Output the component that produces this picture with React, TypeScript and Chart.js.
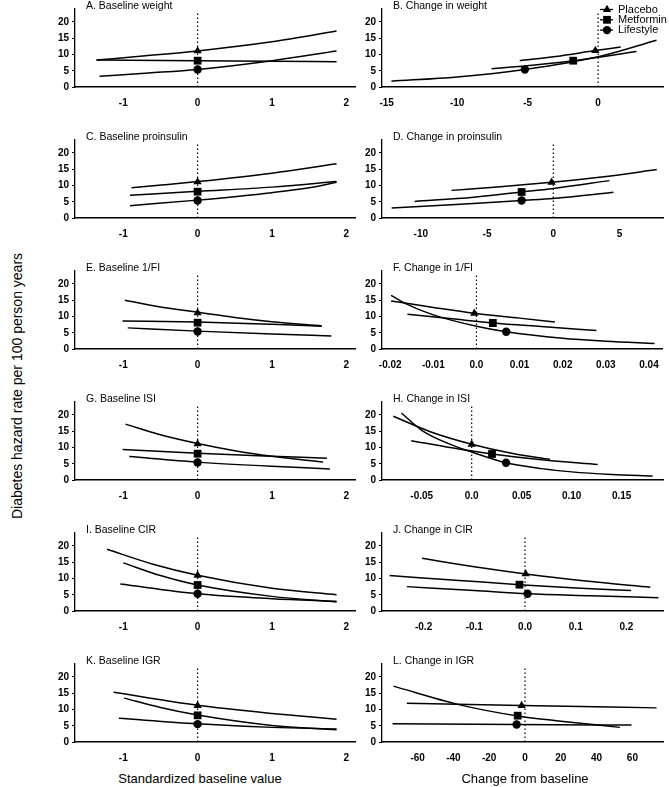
import React, { useEffect, useRef } from "react";
import { Chart, registerables } from "chart.js";
Chart.register(...registerables);

type Pt = [number, number];

const seriesNames = ["Placebo", "Metformin", "Lifestyle"];
const panelTitles = [
  "A. Baseline weight", "B. Change in weight",
  "C. Baseline proinsulin", "D. Change in proinsulin",
  "E. Baseline 1/FI", "F. Change in 1/FI",
  "G. Baseline ISI", "H. Change in ISI",
  "I. Baseline CIR", "J. Change in CIR",
  "K. Baseline IGR", "L. Change in IGR",
];
const yAxisTitle = "Diabetes hazard rate per 100 person years";
const xTitleLeft = "Standardized baseline value";
const xTitleRight = "Change from baseline";

const yTicks = [0, 5, 10, 15, 20];
const baselineTicks = [-1, 0, 1, 2];
const baselineTickLabels = ["-1", "0", "1", "2"];
const ticksB = [-15, -10, -5, 0];
const labelsB = ["-15", "-10", "-5", "0"];
const ticksD = [-10, -5, 0, 5];
const labelsD = ["-10", "-5", "0", "5"];
const ticksF = [-0.02, -0.01, 0, 0.01, 0.02, 0.03, 0.04];
const labelsF = ["-0.02", "-0.01", "0.0", "0.01", "0.02", "0.03", "0.04"];
const ticksH = [-0.05, 0, 0.05, 0.1, 0.15];
const labelsH = ["-0.05", "0.0", "0.05", "0.10", "0.15"];
const ticksJ = [-0.2, -0.1, 0, 0.1, 0.2];
const labelsJ = ["-0.2", "-0.1", "0.0", "0.1", "0.2"];
const ticksL = [-60, -40, -20, 0, 20, 40, 60];
const labelsL = ["-60", "-40", "-20", "0", "20", "40", "60"];

// axis ranges [min, max]
const rangeBaseline: Pt = [-1.65, 2.13];
const rangeB: Pt = [-15.33, 4.6];
const rangeD: Pt = [-12.93, 8.28];
const rangeF: Pt = [-0.0219, 0.0431];
const rangeH: Pt = [-0.0897, 0.1913];
const rangeJ: Pt = [-0.282, 0.272];
const rangeL: Pt = [-79.9, 77.1];

// A. Baseline weight
const aPlacebo: Pt[] = [[-1.36, 8.3], [-0.7, 9.6], [0, 11.1], [1, 13.9], [1.87, 17.2]];
const aMetformin: Pt[] = [[-1.36, 8.3], [0, 8.1], [1, 7.9], [1.87, 7.8]];
const aLifestyle: Pt[] = [[-1.32, 3.3], [-0.66, 4.3], [0, 5.4], [1, 8.1], [1.87, 11.1]];
const aMarkers: Pt[] = [[0, 11.1], [0, 8.1], [0, 5.4]];
// B. Change in weight
const bPlacebo: Pt[] = [[-5.56, 8.1], [-3, 9.4], [-0.2, 11.2], [1.6, 12.3]];
const bMetformin: Pt[] = [[-7.56, 5.6], [-4.5, 6.8], [-1.77, 8.1], [2.72, 10.9]];
const bLifestyle: Pt[] = [[-14.66, 1.8], [-10, 3.1], [-5.2, 5.4], [0, 9.3], [4.14, 14.4]];
const bMarkers: Pt[] = [[-0.2, 11.2], [-1.77, 8.1], [-5.2, 5.4]];
// C. Baseline proinsulin
const cPlacebo: Pt[] = [[-0.89, 9.3], [-0.45, 10.2], [0, 11.2], [1, 13.8], [1.87, 16.7]];
const cMetformin: Pt[] = [[-0.91, 7.0], [0, 8.2], [1, 9.5], [1.87, 11.2]];
const cLifestyle: Pt[] = [[-0.91, 3.8], [0, 5.5], [1, 7.8], [1.5, 9.3], [1.87, 11.0]];
const cMarkers: Pt[] = [[0, 11.1], [0, 8.1], [0, 5.4]];
// D. Change in proinsulin
const dPlacebo: Pt[] = [[-7.69, 8.5], [-4, 9.6], [-0.13, 11.0], [4, 12.8], [7.81, 14.9]];
const dMetformin: Pt[] = [[-10.46, 5.1], [-6, 6.4], [-2.39, 8.0], [0, 9.1], [4.24, 11.5]];
const dLifestyle: Pt[] = [[-12.2, 3.1], [-7, 4.2], [-2.39, 5.4], [0, 6.0], [4.54, 7.9]];
const dMarkers: Pt[] = [[-0.13, 11.0], [-2.39, 8.0], [-2.39, 5.4]];
// E. Baseline 1/FI
const ePlacebo: Pt[] = [[-0.98, 15.0], [-0.5, 12.9], [0, 11.3], [0.5, 9.7], [1, 8.4], [1.67, 7.1]];
const eMetformin: Pt[] = [[-1.01, 8.6], [0, 8.3], [1, 7.6], [1.67, 7.0]];
const eLifestyle: Pt[] = [[-0.94, 6.5], [0, 5.5], [1, 4.6], [1.8, 4.0]];
const eMarkers: Pt[] = [[0, 11.1], [0, 8.1], [0, 5.4]];
// F. Change in 1/FI
const fPlacebo: Pt[] = [[-0.0198, 14.8], [-0.01, 12.8], [-0.0005, 11.0], [0.01, 9.5], [0.0182, 8.3]];
const fMetformin: Pt[] = [[-0.016, 10.7], [-0.005, 9.2], [0.0038, 8.0], [0.015, 6.9], [0.0278, 5.7]];
const fLifestyle: Pt[] = [[-0.0198, 16.5], [-0.0168, 14.2], [-0.01, 10.5], [0, 7.0], [0.0069, 5.3], [0.02, 3.3], [0.03, 2.4], [0.0413, 1.7]];
const fMarkers: Pt[] = [[-0.0005, 11.0], [0.0038, 8.0], [0.0069, 5.3]];
// G. Baseline ISI
const gPlacebo: Pt[] = [[-0.97, 17.2], [-0.5, 13.9], [0, 11.2], [0.5, 9.0], [1, 7.3], [1.69, 5.5]];
const gMetformin: Pt[] = [[-1.01, 9.4], [0, 8.2], [1, 7.3], [1.74, 6.7]];
const gLifestyle: Pt[] = [[-0.92, 7.2], [0, 5.5], [1, 4.2], [1.78, 3.4]];
const gMarkers: Pt[] = [[0, 11.1], [0, 8.1], [0, 5.4]];
// H. Change in ISI
const hPlacebo: Pt[] = [[-0.0784, 19.6], [-0.04, 14.7], [0, 11.0], [0.04, 8.2], [0.0784, 6.3]];
const hMetformin: Pt[] = [[-0.0605, 12.1], [-0.02, 9.9], [0.0203, 8.0], [0.07, 6.2], [0.126, 4.8]];
const hLifestyle: Pt[] = [[-0.0703, 20.6], [-0.05, 15.3], [-0.02, 10.8], [0, 8.6], [0.0343, 5.3], [0.07, 3.5], [0.1, 2.5], [0.14, 1.7], [0.181, 1.2]];
const hMarkers: Pt[] = [[0, 11.0], [0.0203, 8.0], [0.0343, 5.3]];
// I. Baseline CIR
const iPlacebo: Pt[] = [[-1.22, 19.0], [-0.6, 14.4], [0, 11.0], [1, 7.0], [1.87, 5.0]];
const iMetformin: Pt[] = [[-1.0, 14.8], [-0.5, 10.9], [0, 8.0], [1, 4.5], [1.87, 2.8]];
const iLifestyle: Pt[] = [[-1.04, 8.3], [0, 5.3], [1, 3.8], [1.87, 3.0]];
const iMarkers: Pt[] = [[0, 11.0], [0, 8.0], [0, 5.3]];
// J. Change in CIR
const jPlacebo: Pt[] = [[-0.203, 16.2], [-0.1, 13.6], [0.0013, 11.4], [0.12, 9.2], [0.247, 7.3]];
const jMetformin: Pt[] = [[-0.267, 10.9], [-0.13, 9.4], [-0.011, 8.1], [0.1, 7.1], [0.209, 6.3]];
const jLifestyle: Pt[] = [[-0.233, 7.5], [-0.1, 6.3], [0.005, 5.3], [0.13, 4.7], [0.263, 4.1]];
const jMarkers: Pt[] = [[0.0013, 11.4], [-0.011, 8.1], [0.005, 5.3]];
// K. Baseline IGR
const kPlacebo: Pt[] = [[-1.13, 15.3], [0, 11.3], [1, 8.8], [1.87, 7.0]];
const kMetformin: Pt[] = [[-0.99, 13.5], [-0.5, 10.6], [0, 8.3], [1, 5.1], [1.87, 3.8]];
const kLifestyle: Pt[] = [[-1.06, 7.3], [0, 5.6], [1, 4.5], [1.87, 4.0]];
const kMarkers: Pt[] = [[0, 11.2], [0, 8.2], [0, 5.5]];
// L. Change in IGR
const lPlacebo: Pt[] = [[-66, 11.9], [-2, 11.2], [73.5, 10.5]];
const lMetformin: Pt[] = [[-73.5, 17.2], [-37, 11.5], [-4, 8.0], [20, 6.4], [53, 4.5]];
const lLifestyle: Pt[] = [[-74, 5.6], [-4.7, 5.4], [59.5, 5.2]];
const lMarkers: Pt[] = [[-1.9, 11.2], [-4.1, 8.1], [-4.7, 5.4]];

type PanelCfg = {
  title: string;
  curves: Pt[][];
  markers: Pt[];
  range: Pt;
  ticks: number[];
  tickLabels: string[];
  legend?: boolean;
};

const panels: PanelCfg[] = [
  { title: panelTitles[0], curves: [aPlacebo, aMetformin, aLifestyle], markers: aMarkers, range: rangeBaseline, ticks: baselineTicks, tickLabels: baselineTickLabels },
  { title: panelTitles[1], curves: [bPlacebo, bMetformin, bLifestyle], markers: bMarkers, range: rangeB, ticks: ticksB, tickLabels: labelsB, legend: true },
  { title: panelTitles[2], curves: [cPlacebo, cMetformin, cLifestyle], markers: cMarkers, range: rangeBaseline, ticks: baselineTicks, tickLabels: baselineTickLabels },
  { title: panelTitles[3], curves: [dPlacebo, dMetformin, dLifestyle], markers: dMarkers, range: rangeD, ticks: ticksD, tickLabels: labelsD },
  { title: panelTitles[4], curves: [ePlacebo, eMetformin, eLifestyle], markers: eMarkers, range: rangeBaseline, ticks: baselineTicks, tickLabels: baselineTickLabels },
  { title: panelTitles[5], curves: [fPlacebo, fMetformin, fLifestyle], markers: fMarkers, range: rangeF, ticks: ticksF, tickLabels: labelsF },
  { title: panelTitles[6], curves: [gPlacebo, gMetformin, gLifestyle], markers: gMarkers, range: rangeBaseline, ticks: baselineTicks, tickLabels: baselineTickLabels },
  { title: panelTitles[7], curves: [hPlacebo, hMetformin, hLifestyle], markers: hMarkers, range: rangeH, ticks: ticksH, tickLabels: labelsH },
  { title: panelTitles[8], curves: [iPlacebo, iMetformin, iLifestyle], markers: iMarkers, range: rangeBaseline, ticks: baselineTicks, tickLabels: baselineTickLabels },
  { title: panelTitles[9], curves: [jPlacebo, jMetformin, jLifestyle], markers: jMarkers, range: rangeJ, ticks: ticksJ, tickLabels: labelsJ },
  { title: panelTitles[10], curves: [kPlacebo, kMetformin, kLifestyle], markers: kMarkers, range: rangeBaseline, ticks: baselineTicks, tickLabels: baselineTickLabels },
  { title: panelTitles[11], curves: [lPlacebo, lMetformin, lLifestyle], markers: lMarkers, range: rangeL, ticks: ticksL, tickLabels: labelsL },
];

const FONT = "'Liberation Sans', Arial, Helvetica, sans-serif";
const markerStyles = ["triangle", "rect", "circle"];
const markerRadii = [4.8, 5.5, 4.2];

const Y_AXIS_W = 40;
const X_AXIS_H = 25;
const TOP_PAD = 8;
const PLOT_H = 79;
const CANVAS_H = TOP_PAD + PLOT_H + X_AXIS_H;

function drawMarker(ctx: CanvasRenderingContext2D, style: string, x: number, y: number, r: number) {
  ctx.beginPath();
  if (style === "triangle") {
    ctx.moveTo(x, y - r);
    ctx.lineTo(x + r * 0.866, y + r * 0.5);
    ctx.lineTo(x - r * 0.866, y + r * 0.5);
    ctx.closePath();
  } else if (style === "rect") {
    const s = r * Math.SQRT1_2;
    ctx.rect(x - s, y - s, 2 * s, 2 * s);
  } else {
    ctx.arc(x, y, r, 0, Math.PI * 2);
  }
  ctx.fill();
}

function PanelChart({ cfg, left, top, width, padRight }: { cfg: PanelCfg; left: number; top: number; width: number; padRight: number }) {
  const ref = useRef<HTMLCanvasElement>(null);
  useEffect(() => {
    const canvas = ref.current!;
    const datasets: any[] = [];
    cfg.curves.forEach((c, i) =>
      datasets.push({
        label: seriesNames[i],
        data: c.map(([x, y]) => ({ x, y })),
        borderColor: "#000",
        borderWidth: 1.5,
        pointRadius: 0,
        fill: false,
        cubicInterpolationMode: "monotone",
      })
    );
    cfg.markers.forEach((m, i) =>
      datasets.push({
        label: seriesNames[i] + " mean",
        data: [{ x: m[0], y: m[1] }],
        showLine: false,
        pointStyle: markerStyles[i],
        pointRadius: markerRadii[i],
        backgroundColor: "#000",
        borderColor: "#000",
        borderWidth: 0,
      })
    );
    datasets.push({
      label: "zero",
      data: [{ x: 0, y: 0 }, { x: 0, y: 23 }],
      borderColor: "#000",
      borderWidth: 1.2,
      borderDash: [1.5, 2.5],
      pointRadius: 0,
      fill: false,
    });

    const overlay = {
      id: "overlay",
      afterDraw(chart: any) {
        const ctx = chart.ctx as CanvasRenderingContext2D;
        const area = chart.chartArea;
        ctx.save();
        ctx.fillStyle = "#000";
        ctx.font = `10.5px ${FONT}`;
        ctx.textBaseline = "middle";
        ctx.textAlign = "left";
        ctx.fillText(cfg.title, area.left + 11, 6);
        if (cfg.legend) {
          seriesNames.forEach((name, i) => {
            const y = 9.5 + i * 10.3;
            const xr = area.right;
            ctx.strokeStyle = "#000";
            ctx.lineWidth = 1.3;
            ctx.beginPath();
            ctx.moveTo(xr - 63, y);
            ctx.lineTo(xr - 50, y);
            ctx.stroke();
            drawMarker(ctx, markerStyles[i], xr - 56, y, markerRadii[i]);
            ctx.font = `11px ${FONT}`;
            ctx.fillText(name, xr - 45, y);
          });
        }
        ctx.restore();
      },
    };

    const chart = new Chart(canvas, {
      type: "line",
      data: { datasets },
      options: {
        responsive: false,
        animation: false,
        events: [],
        layout: { padding: { top: TOP_PAD, left: 0, right: padRight, bottom: 0 }, autoPadding: false },
        plugins: { legend: { display: false }, tooltip: { enabled: false }, title: { display: false } },
        scales: {
          x: {
            type: "linear",
            min: cfg.range[0],
            max: cfg.range[1],
            afterBuildTicks: (s: any) => {
              s.ticks = cfg.ticks.map((v) => ({ value: v }));
            },
            afterFit: (s: any) => {
              s.height = X_AXIS_H;
            },
            ticks: {
              autoSkip: false,
              maxRotation: 0,
              padding: 10,
              color: "#000",
              font: { family: FONT, size: 10, weight: "bold" },
              callback: (v: any) => {
                const idx = cfg.ticks.findIndex((t) => Math.abs(t - Number(v)) < 1e-9);
                return idx >= 0 ? cfg.tickLabels[idx] : "";
              },
            },
            grid: { display: false, drawTicks: false },
            border: { display: true, color: "#000", width: 1.6 },
          },
          y: {
            type: "linear",
            min: 0,
            max: 24,
            afterBuildTicks: (s: any) => {
              s.ticks = yTicks.map((v) => ({ value: v }));
            },
            afterFit: (s: any) => {
              s.width = Y_AXIS_W;
            },
            ticks: {
              padding: 3,
              color: "#000",
              font: { family: FONT, size: 10, weight: "bold" },
              callback: (v: any) => String(v),
            },
            grid: { display: true, drawOnChartArea: false, drawTicks: true, tickLength: 3, color: "#000", lineWidth: 1 },
            border: { display: true, color: "#000", width: 1.3 },
          },
        },
      } as any,
      plugins: [overlay],
    });
    return () => chart.destroy();
  }, [cfg]);

  return (
    <canvas
      ref={ref}
      width={width}
      height={CANVAS_H}
      style={{ position: "absolute", left, top, width, height: CANVAS_H }}
    />
  );
}

const rowTops = [0, 131, 262, 393, 524, 655];
const colLefts = [35, 342];
const colWidths = [324, 327];
const colPadRight = [0, 6];

export default function App() {
  return (
    <div style={{ position: "absolute", left: 0, top: 0, width: 669, height: 787, background: "#fff", overflow: "hidden", fontFamily: FONT }}>
      {panels.map((p, i) => (
        <PanelChart
          key={i}
          cfg={p}
          left={colLefts[i % 2]}
          top={rowTops[Math.floor(i / 2)]}
          width={colWidths[i % 2]}
          padRight={colPadRight[i % 2]}
        />
      ))}
      <div
        style={{
          position: "absolute",
          left: 17,
          top: 386,
          transform: "translate(-50%, -50%) rotate(-90deg)",
          whiteSpace: "nowrap",
          fontSize: 14,
          color: "#000",
        }}
      >
        {yAxisTitle}
      </div>
      <div style={{ position: "absolute", left: 200, top: 778, transform: "translate(-50%, -50%)", whiteSpace: "nowrap", fontSize: 13, color: "#000" }}>
        {xTitleLeft}
      </div>
      <div style={{ position: "absolute", left: 525, top: 778, transform: "translate(-50%, -50%)", whiteSpace: "nowrap", fontSize: 13, color: "#000" }}>
        {xTitleRight}
      </div>
    </div>
  );
}
